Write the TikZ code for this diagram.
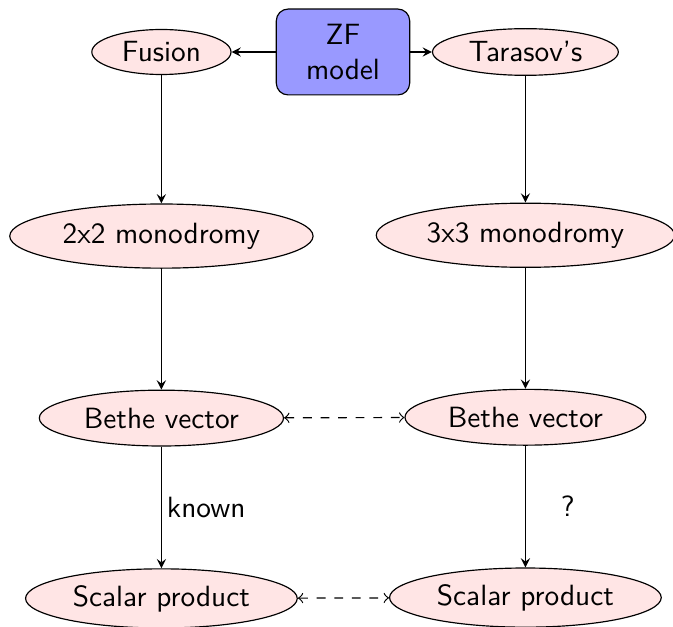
\documentclass[tikz,border=0pt]{standalone}
\usetikzlibrary{positioning, shapes.geometric, arrows}

\begin{document}
\begin{tikzpicture}[
    font=\sffamily,
    stage/.style={draw, ellipse, fill=red!10, inner sep=1pt},
    model/.style={draw, rectangle, rounded corners, fill=blue!40, align=center, minimum width=1.6cm, minimum height=1.03cm},
    arrow/.style={-stealth},
    link/.style={<->, dashed}
]
\useasboundingbox (0,0) rectangle (8.076,7.524);

\node[model] (zf) at (4.116,6.9) {ZF\\model};
\node[stage, minimum width=1.67cm, minimum height=0.54cm, left=0.53cm of zf] (fusion) {Fusion};
\node[stage, minimum width=2.23cm, minimum height=0.56cm, right=0.26cm of zf] (tarasov) {Tarasov's};

% left column
\node[stage, minimum width=3.64cm, minimum height=0.77cm, below=1.54cm of fusion] (mono2) {2x2 monodromy};
\node[stage, minimum width=2.93cm, minimum height=0.67cm, below=1.45cm of mono2] (bethe2) {Bethe vector};
\node[stage, minimum width=3.26cm, minimum height=0.71cm, below=1.46cm of bethe2] (scalar2) {Scalar product};

% right column
\node[stage, minimum width=3.58cm, minimum height=0.77cm, below=1.52cm of tarasov] (mono3) {3x3 monodromy};
\node[stage, minimum width=2.89cm, minimum height=0.67cm, below=1.45cm of mono3] (bethe3) {Bethe vector};
\node[stage, minimum width=3.26cm, minimum height=0.71cm, below=1.46cm of bethe3] (scalar3) {Scalar product};

\draw[arrow] (zf) -- (fusion);
\draw[arrow] (zf) -- (tarasov);
\draw[arrow] (fusion) -- (mono2);
\draw[arrow] (mono2) -- (bethe2);
\draw[arrow] (bethe2) -- node[right, inner sep=1.7pt] {known} (scalar2);
\draw[arrow] (tarasov) -- (mono3);
\draw[arrow] (mono3) -- (bethe3);
\draw[arrow] (bethe3) -- node[right=0.3cm] {?} (scalar3);

\draw[link] (bethe2) -- (bethe3);
\draw[link] (scalar2) -- (scalar3);
\end{tikzpicture}
\end{document}
